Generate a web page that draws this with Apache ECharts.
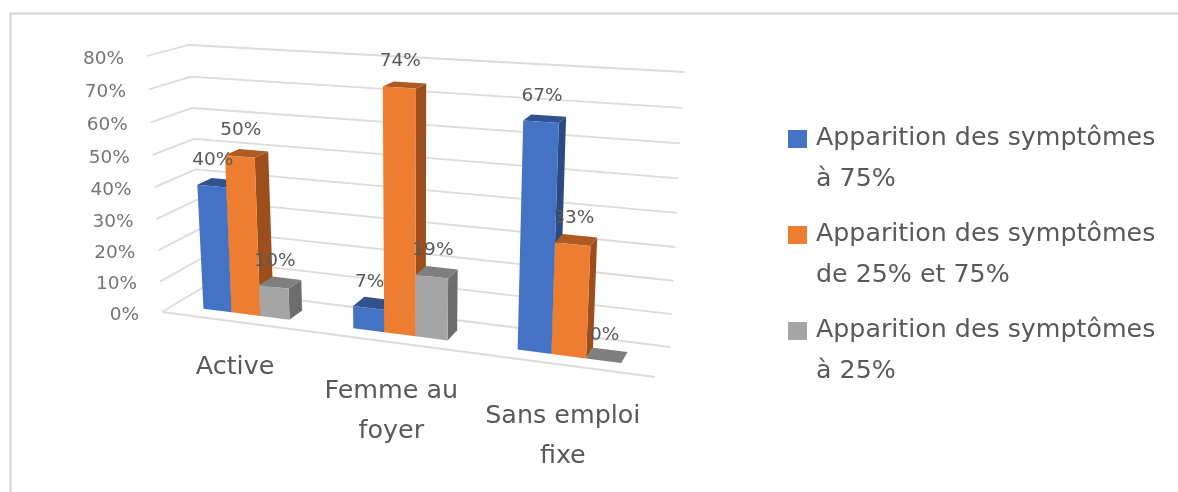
<!DOCTYPE html>
<html>
<head>
<meta charset="utf-8">
<style>
  html, body { margin: 0; padding: 0; background: #fff; }
  #main { width: 1178px; height: 492px; }
</style>
<script src="https://cdn.jsdelivr.net/npm/echarts@6/dist/echarts.min.js"></script>
</head>
<body>
<div id="main"></div>
<script>
const categories = ['Active', 'Femme au\nfoyer', 'Sans emploi\nfixe'];
const yTicks = [0, 10, 20, 30, 40, 50, 60, 70, 80];
const seriesNames = [
  'Apparition des symptômes\nà 75%',
  'Apparition des symptômes\nde 25% et 75%',
  'Apparition des symptômes\nà 25%'
];
const above75 = [40, 7, 67];
const between25and75 = [50, 74, 33];
const below25 = [10, 19, 0];

const FONT = 'DejaVu Sans';

// corners of the 3d box as seen on screen: front/back, left/right, bottom/top
const box = {
  fl0: [162, 312], fl1: [147, 56], fr0: [655, 377], fr1: [671, 87],
  bl0: [202, 288], bl1: [189, 45], br0: [670, 347], br1: [684, 72]
};
const BAR_WIDTH = 0.195; // part of a category band
const BAR_FRONT = 0.3;
const BAR_BACK = 0.67;

function warp(t, w) {
  return t / (t + w * (1 - t));
}
function mix(a, b, t) {
  return [a[0] + (b[0] - a[0]) * t, a[1] + (b[1] - a[1]) * t];
}
// u along categories, v along values, d into the depth (all 0..1)
function project(u, v, d) {
  const s = warp(u, 1.15);
  const t = warp(v, 1.05);
  const front = mix(mix(box.fl0, box.fr0, s), mix(box.fl1, box.fr1, s), t);
  const back = mix(mix(box.bl0, box.br0, s), mix(box.bl1, box.br1, s), t);
  return mix(front, back, d);
}
function toUnit(point, cs) {
  return [(point[0] - cs.x) / cs.width, (cs.y + cs.height - point[1]) / cs.height];
}

function poly(points, fill, z2) {
  return { type: 'polygon', z2: z2, shape: { points: points }, style: { fill: fill } };
}

function barRender(k, topColor, sideColor) {
  return function (params, api) {
    const cs = params.coordSys;
    const value = api.value(1);
    const p = toUnit(api.coord([api.value(0), value]), cs);
    const band = api.size([1, 0])[0] / cs.width;
    const u0 = p[0] + (k - 1.5) * BAR_WIDTH * band;
    const u1 = u0 + BAR_WIDTH * band;
    const v = p[1];
    const color = api.visual('color');
    const frontTop = [project(u0, v, BAR_FRONT), project(u1, v, BAR_FRONT)];
    const labelPos = mix(frontTop[0], frontTop[1], 0.5);
    return {
      type: 'group',
      children: [
        poly([project(u1, 0, BAR_FRONT), project(u1, 0, BAR_BACK), project(u1, v, BAR_BACK), project(u1, v, BAR_FRONT)], sideColor, 1),
        poly([project(u0, v, BAR_FRONT), project(u1, v, BAR_FRONT), project(u1, v, BAR_BACK), project(u0, v, BAR_BACK)], topColor, 2),
        poly([project(u0, 0, BAR_FRONT), project(u1, 0, BAR_FRONT), project(u1, v, BAR_FRONT), project(u0, v, BAR_FRONT)], color, 3),
        {
          type: 'text',
          z2: 100,
          style: {
            x: labelPos[0] + 1,
            y: labelPos[1] - 26,
            text: value + '%',
            fill: '#595959',
            font: '18.5px "' + FONT + '"',
            align: 'center',
            verticalAlign: 'middle'
          }
        }
      ]
    };
  };
}

function wallRender(params, api) {
  const cs = params.coordSys;
  const tick = api.value(0);
  const v = toUnit(api.coord([0, tick]), cs)[1];
  const start = project(0, v, 0);
  const children = [
    {
      type: 'polyline',
      shape: { points: [start, project(0, v, 1), project(1, v, 1)] },
      style: { stroke: '#dcdcdc', lineWidth: 1.8, fill: null }
    },
    {
      type: 'text',
      style: {
        x: start[0] - 23,
        y: start[1] + 3,
        text: tick + '%',
        fill: '#757575',
        font: '18.5px "' + FONT + '"',
        align: 'right',
        verticalAlign: 'middle'
      }
    }
  ];
  if (tick === 0) {
    children.push({
      type: 'line',
      shape: { x1: start[0], y1: start[1], x2: project(1, 0, 0)[0], y2: project(1, 0, 0)[1] },
      style: { stroke: '#dcdcdc', lineWidth: 1.8 }
    });
  }
  return { type: 'group', children: children };
}

function categoryRender(params, api) {
  const cs = params.coordSys;
  const i = api.value(0);
  const u = toUnit(api.coord([i, 0]), cs)[0];
  const p = project(u, 0, 0);
  return {
    type: 'text',
    style: {
      x: p[0],
      y: p[1] + 24.5 + 9 * warp(u, 1.15),
      text: categories[i],
      fill: '#595959',
      font: '25.4px "' + FONT + '"',
      lineHeight: 40,
      align: 'center',
      verticalAlign: 'top'
    }
  };
}

function barSeries(k, values, color, topColor, sideColor) {
  return {
    name: seriesNames[k],
    type: 'custom',
    coordinateSystem: 'cartesian2d',
    itemStyle: { color: color },
    renderItem: barRender(k, topColor, sideColor),
    data: values.map(function (v, i) { return [i, v]; }),
    encode: { x: 0, y: 1 }
  };
}

const chart = echarts.init(document.getElementById('main'));
chart.setOption({
  animation: false,
  backgroundColor: '#fff',
  graphic: [{
    type: 'polyline',
    shape: { points: [[10.5, 492], [10.5, 13.5], [1178, 13.5]] },
    style: { stroke: '#dadada', lineWidth: 2.5, fill: null }
  }],
  grid: { left: 0, right: 0, top: 0, bottom: 0 },
  xAxis: { type: 'category', data: categories, show: false },
  yAxis: { type: 'value', min: 0, max: 80, interval: 10, show: false },
  legend: {
    left: 788,
    top: 118,
    padding: 0,
    orient: 'vertical',
    selectedMode: false,
    itemWidth: 19,
    itemHeight: 82,
    itemGap: 14,
    // square sits next to the first line of the two line name
    icon: 'path://M0 12H19V30H0Z M0 0L0 0 M0 82L0 82',
    data: seriesNames,
    textStyle: { color: '#595959', fontFamily: FONT, fontSize: 25.3, lineHeight: 41, padding: [0, 0, 0, 4] }
  },
  series: [
    {
      type: 'custom',
      coordinateSystem: 'cartesian2d',
      silent: true,
      renderItem: wallRender,
      data: yTicks.map(function (t) { return [t]; }),
      encode: { y: 0 }
    },
    {
      type: 'custom',
      coordinateSystem: 'cartesian2d',
      silent: true,
      renderItem: categoryRender,
      data: categories.map(function (c, i) { return [i]; }),
      encode: { x: 0 }
    },
    barSeries(0, above75, '#4472c4', '#30538f', '#2a4a80'),
    barSeries(1, between25and75, '#ed7d31', '#ae5a21', '#9c4f1d'),
    barSeries(2, below25, '#a5a5a5', '#7f7f7f', '#6d6d6d')
  ]
});
</script>
</body>
</html>
